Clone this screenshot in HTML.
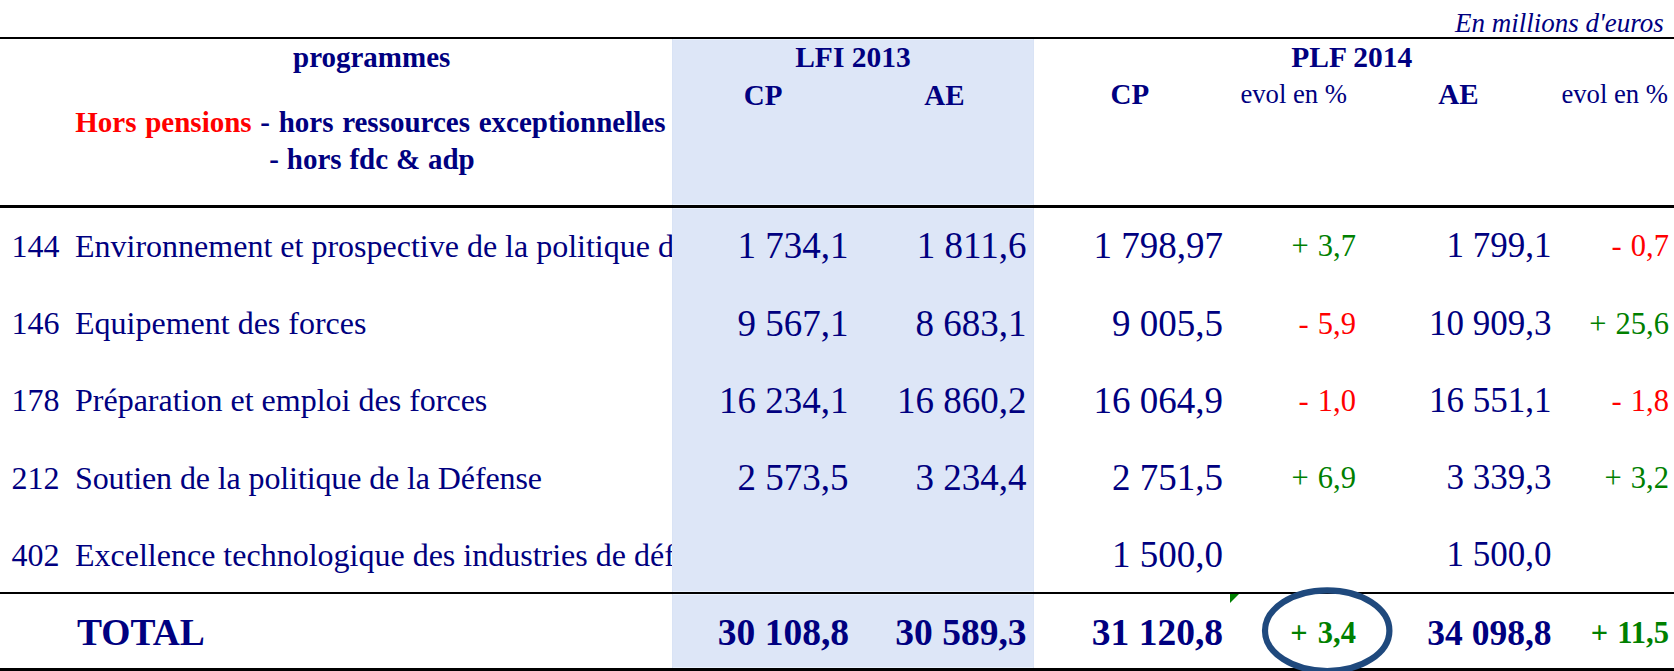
<!DOCTYPE html>
<html><head><meta charset="utf-8"><style>
html,body{margin:0;padding:0;background:#fff;}
body{width:1674px;height:671px;position:relative;overflow:hidden;font-family:"Liberation Serif",serif;}
.t{position:absolute;white-space:pre;line-height:normal;}
.r{position:absolute;}
</style></head><body>
<div class="r" style="left:672px;top:39px;width:362px;height:632px;background:#dde6f7;"></div>
<div class="r" style="left:672px;top:39px;width:362px;height:1px;background:#eaf2fe;"></div>
<div class="r" style="left:672px;top:204px;width:362px;height:5px;background:#eaf2fe;"></div>
<div class="r" style="left:672px;top:591px;width:362px;height:4px;background:#eaf2fe;"></div>
<div class="r" style="left:672px;top:667px;width:362px;height:1px;background:#eaf2fe;"></div>
<div class="r" style="left:672px;top:39px;width:1px;height:632px;background:#d9e3f5;"></div>
<div class="r" style="left:1033px;top:39px;width:1px;height:632px;background:#d9e3f5;"></div>
<div class="r" style="left:0;top:37px;width:1674px;height:2px;background:#000;"></div>
<div class="r" style="left:0;top:205px;width:1674px;height:3px;background:#000;"></div>
<div class="r" style="left:0;top:592px;width:1674px;height:2px;background:#000;"></div>
<div class="r" style="left:0;top:668px;width:1674px;height:3px;background:#000;"></div>
<div class="t" style="left:1455.00px;top:8.18px;font-size:27px;font-style:italic;color:#000080;">En millions d'euros</div>
<div class="t" style="left:293.00px;top:40.55px;font-size:29px;font-weight:bold;color:#000080;">programmes</div>
<div class="t" style="left:795.20px;top:41.10px;font-size:29.5px;font-weight:bold;color:#000080;">LFI 2013</div>
<div class="t" style="left:1291.30px;top:41.10px;font-size:29.5px;font-weight:bold;color:#000080;">PLF 2014</div>
<div class="t" style="left:743.80px;top:79.05px;font-size:29px;font-weight:bold;color:#000080;">CP</div>
<div class="t" style="left:924.20px;top:79.05px;font-size:29px;font-weight:bold;color:#000080;">AE</div>
<div class="t" style="left:1110.50px;top:78.05px;font-size:29px;font-weight:bold;color:#000080;">CP</div>
<div class="t" style="left:1240.40px;top:78.95px;font-size:26.7px;color:#000080;">evol en %</div>
<div class="t" style="left:1438.20px;top:78.05px;font-size:29px;font-weight:bold;color:#000080;">AE</div>
<div class="t" style="left:1561.40px;top:78.95px;font-size:26.7px;color:#000080;">evol en %</div>
<div class="t" style="left:269.30px;top:142.85px;font-size:29px;font-weight:bold;color:#000080;word-spacing:0.6px;">- hors fdc &amp; adp</div>
<div class="t" style="left:11.50px;top:227.82px;font-size:32px;color:#000080;">144</div>
<div class="t" style="left:75.00px;top:227.82px;font-size:32px;color:#000080;width:597.00px;overflow:hidden;">Environnement et prospective de la politique de défense</div>
<div class="t" style="left:737.50px;top:224.26px;font-size:37px;color:#000080;">1 734,1</div>
<div class="t" style="left:916.87px;top:224.26px;font-size:37px;color:#000080;">1 811,6</div>
<div class="t" style="left:1093.50px;top:224.26px;font-size:37px;color:#000080;">1 798,97</div>
<div class="t" style="left:1446.50px;top:226.08px;font-size:35px;color:#000080;">1 799,1</div>
<div class="t" style="left:1291.55px;top:229.18px;font-size:30.5px;color:#008000;word-spacing:1.5px;">+ 3,7</div>
<div class="t" style="left:1611.59px;top:229.18px;font-size:30.5px;color:#ff0000;word-spacing:1.5px;">- 0,7</div>
<div class="t" style="left:11.50px;top:305.32px;font-size:32px;color:#000080;">146</div>
<div class="t" style="left:75.00px;top:305.32px;font-size:32px;color:#000080;width:597.00px;overflow:hidden;">Equipement des forces</div>
<div class="t" style="left:737.50px;top:301.76px;font-size:37px;color:#000080;">9 567,1</div>
<div class="t" style="left:915.50px;top:301.76px;font-size:37px;color:#000080;">8 683,1</div>
<div class="t" style="left:1112.00px;top:301.76px;font-size:37px;color:#000080;">9 005,5</div>
<div class="t" style="left:1429.00px;top:303.58px;font-size:35px;color:#000080;">10 909,3</div>
<div class="t" style="left:1298.59px;top:306.68px;font-size:30.5px;color:#ff0000;word-spacing:1.5px;">- 5,9</div>
<div class="t" style="left:1589.30px;top:306.68px;font-size:30.5px;color:#008000;word-spacing:1.5px;">+ 25,6</div>
<div class="t" style="left:11.50px;top:382.32px;font-size:32px;color:#000080;">178</div>
<div class="t" style="left:75.00px;top:382.32px;font-size:32px;color:#000080;width:597.00px;overflow:hidden;">Préparation et emploi des forces</div>
<div class="t" style="left:719.00px;top:378.76px;font-size:37px;color:#000080;">16 234,1</div>
<div class="t" style="left:897.00px;top:378.76px;font-size:37px;color:#000080;">16 860,2</div>
<div class="t" style="left:1093.50px;top:378.76px;font-size:37px;color:#000080;">16 064,9</div>
<div class="t" style="left:1429.00px;top:380.58px;font-size:35px;color:#000080;">16 551,1</div>
<div class="t" style="left:1298.59px;top:383.68px;font-size:30.5px;color:#ff0000;word-spacing:1.5px;">- 1,0</div>
<div class="t" style="left:1611.59px;top:383.68px;font-size:30.5px;color:#ff0000;word-spacing:1.5px;">- 1,8</div>
<div class="t" style="left:11.50px;top:459.62px;font-size:32px;color:#000080;">212</div>
<div class="t" style="left:75.00px;top:459.62px;font-size:32px;color:#000080;width:597.00px;overflow:hidden;letter-spacing:-0.11px;">Soutien de la politique de la Défense</div>
<div class="t" style="left:737.50px;top:456.06px;font-size:37px;color:#000080;">2 573,5</div>
<div class="t" style="left:915.50px;top:456.06px;font-size:37px;color:#000080;">3 234,4</div>
<div class="t" style="left:1112.00px;top:456.06px;font-size:37px;color:#000080;">2 751,5</div>
<div class="t" style="left:1446.50px;top:457.88px;font-size:35px;color:#000080;">3 339,3</div>
<div class="t" style="left:1291.55px;top:460.98px;font-size:30.5px;color:#008000;word-spacing:1.5px;">+ 6,9</div>
<div class="t" style="left:1604.55px;top:460.98px;font-size:30.5px;color:#008000;word-spacing:1.5px;">+ 3,2</div>
<div class="t" style="left:11.50px;top:536.82px;font-size:32px;color:#000080;">402</div>
<div class="t" style="left:75.00px;top:536.82px;font-size:32px;color:#000080;width:597.00px;overflow:hidden;">Excellence technologique des industries de défense</div>
<div class="t" style="left:1112.00px;top:533.26px;font-size:37px;color:#000080;">1 500,0</div>
<div class="t" style="left:1446.50px;top:535.08px;font-size:35px;color:#000080;">1 500,0</div>
<div class="t" style="left:77.00px;top:610.80px;font-size:37.5px;font-weight:bold;color:#000080;">TOTAL</div>
<div class="t" style="left:717.75px;top:610.80px;font-size:37.5px;font-weight:bold;color:#000080;">30 108,8</div>
<div class="t" style="left:895.25px;top:610.80px;font-size:37.5px;font-weight:bold;color:#000080;">30 589,3</div>
<div class="t" style="left:1091.75px;top:610.80px;font-size:37.5px;font-weight:bold;color:#000080;">31 120,8</div>
<div class="t" style="left:1290.37px;top:615.68px;font-size:30.5px;font-weight:bold;color:#008000;word-spacing:2.5px;">+ 3,4</div>
<div class="t" style="left:1427.25px;top:612.12px;font-size:35.5px;font-weight:bold;color:#000080;">34 098,8</div>
<div class="t" style="left:1590.80px;top:615.68px;font-size:30.5px;font-weight:bold;color:#008000;word-spacing:1.5px;">+ 11,5</div>
<div class="t" style="left:75.30px;top:106.15px;font-size:29px;font-weight:bold;color:#000080;word-spacing:1.45px"><span style="color:#ff0000">Hors pensions</span> - hors ressources exceptionnelles</div>
<svg class="r" style="left:0;top:0" width="1674" height="671">
<polygon points="1230,594 1239,594 1230,603" fill="#008000"/>
<ellipse cx="1327.2" cy="630.7" rx="62.2" ry="40.3" fill="none" stroke="#1f497d" stroke-width="6.2"/>
</svg>
</body></html>
